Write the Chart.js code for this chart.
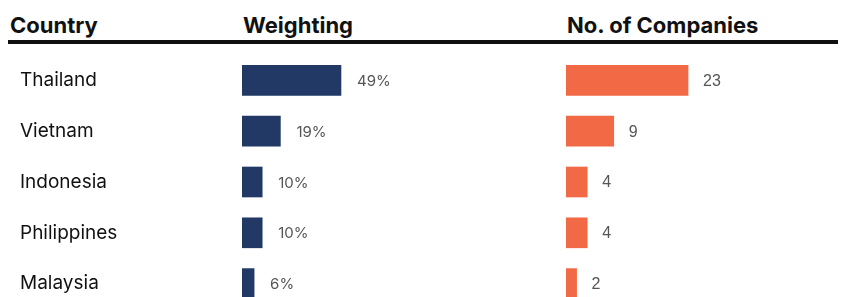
<!DOCTYPE html>
<html>
<head>
<meta charset="utf-8">
<script src="https://cdn.jsdelivr.net/npm/chart.js@4"></script>
<style>
  html, body { margin: 0; padding: 0; background: #fff; width: 843px; height: 297px; overflow: hidden; }
  body { position: relative; font-family: "Inter", "DejaVu Sans", sans-serif; }
  .head { position: absolute; top: 12px; font-size: 22px; font-weight: 700; color: #111; white-space: nowrap; }
  .rule { position: absolute; left: 8px; top: 40px; width: 830px; height: 4px; background: #111; }
  .box { position: absolute; top: 55px; height: 254px; }
</style>
</head>
<body>
<div class="head" style="left:10px">Country</div>
<div class="head" style="left:243px">Weighting</div>
<div class="head" style="left:567px">No. of Companies</div>
<div class="rule"></div>
<div class="box" style="left:0; width:566px"><canvas id="weightChart"></canvas></div>
<div class="box" style="left:566px; width:277px"><canvas id="companyChart"></canvas></div>

<script>
const countries = ['Thailand', 'Vietnam', 'Indonesia', 'Philippines', 'Malaysia'];
const weighting = [49, 19, 10, 10, 6];
const companies = [23, 9, 4, 4, 2];

// Draw value next to each bar
const valueLabels = {
    id: 'valueLabels',
    afterDatasetsDraw(chart, args, opts) {
        const ctx = chart.ctx;
        const meta = chart.getDatasetMeta(0);
        ctx.save();
        ctx.font = opts.font;
        ctx.fillStyle = '#555';
        ctx.textBaseline = 'middle';
        meta.data.forEach((bar, i) => {
            const v = chart.data.datasets[0].data[i];
            ctx.fillText(v + opts.suffix, bar.x + opts.gap, bar.y + 1);
        });
        ctx.restore();
    }
};

function makeChart(id, values, color, max, showCountries, labelOpts) {
    const ctx = document.getElementById(id).getContext('2d');
    const yScale = {
        display: showCountries,
        grid: { display: false },
        border: { display: false },
        ticks: {
            crossAlign: 'far',
            padding: 0,
            color: '#111',
            font: { family: 'Inter', size: 19 }
        }
    };
    if (showCountries) {
        yScale.afterFit = (scale) => {
            scale.width = 222;
            scale.paddingTop = 0;
            scale.paddingBottom = 0;
        };
    }
    return new Chart(ctx, {
        type: 'bar',
        data: {
            labels: countries,
            datasets: [{
                data: values,
                backgroundColor: color,
                barThickness: 30,
                borderWidth: 0
            }]
        },
        options: {
            indexAxis: 'y',
            responsive: true,
            maintainAspectRatio: false,
            animation: false,
            layout: { padding: { left: showCountries ? 20 : 0, right: 0, top: 0, bottom: 0 } },
            plugins: {
                legend: { display: false },
                tooltip: { enabled: false },
                valueLabels: labelOpts
            },
            scales: {
                x: { display: false, min: 0, max: max },
                y: yScale
            }
        },
        plugins: [valueLabels]
    });
}

makeChart('weightChart', weighting, '#213964', 160.4, true,
    { font: '15px Inter', suffix: '%', gap: 16 });
makeChart('companyChart', companies, '#F26946', 52.2, false,
    { font: '16px "Liberation Sans"', suffix: '', gap: 15 });
</script>
</body>
</html>
